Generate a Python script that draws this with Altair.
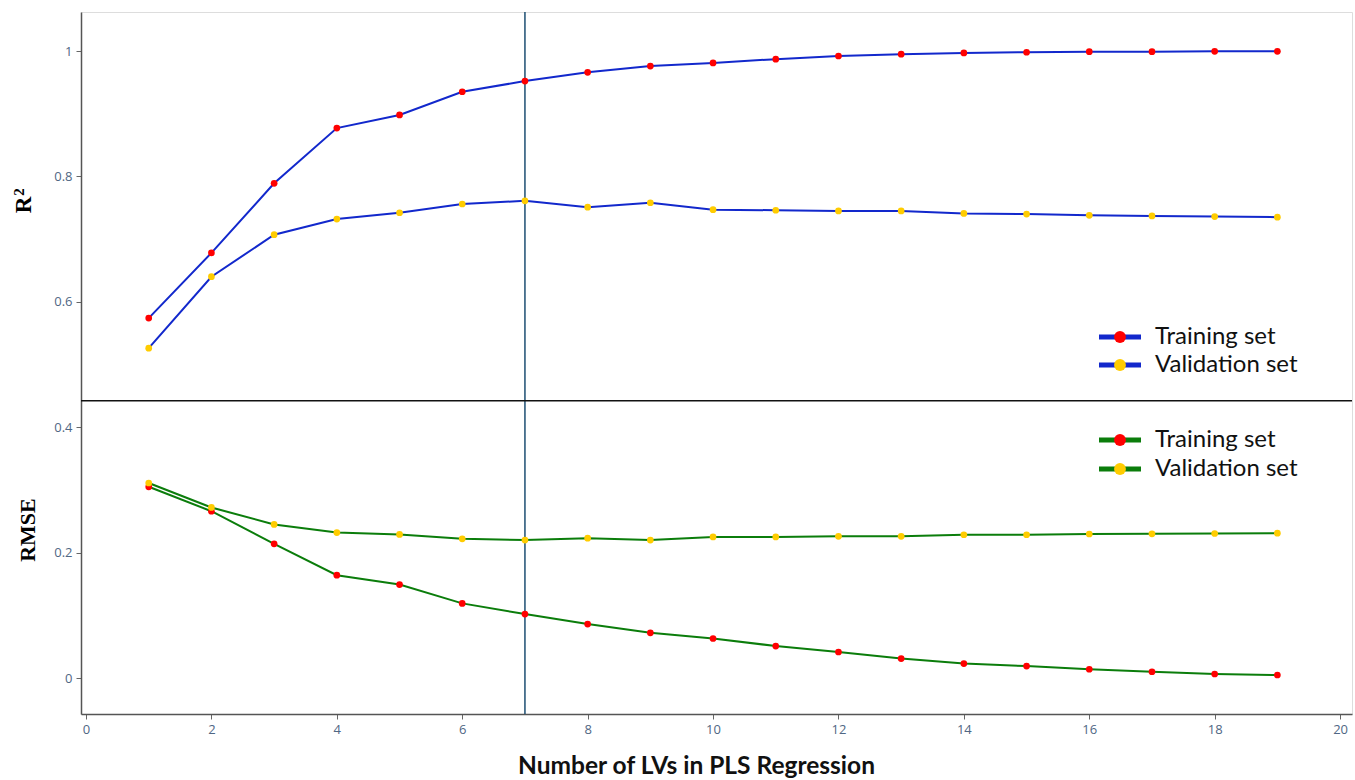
import altair as alt
import pandas as pd

# ---- data ----
lvs = list(range(1, 20))
r2_train = [0.574, 0.678, 0.789, 0.877, 0.898, 0.935, 0.952, 0.966, 0.976, 0.981,
            0.987, 0.992, 0.995, 0.997, 0.998, 0.999, 0.999, 0.9995, 0.9995]
r2_valid = [0.526, 0.640, 0.707, 0.732, 0.742, 0.756, 0.761, 0.751, 0.758, 0.747,
            0.746, 0.745, 0.745, 0.741, 0.740, 0.738, 0.737, 0.736, 0.735]
rmse_train = [0.305, 0.266, 0.214, 0.164, 0.149, 0.119, 0.102, 0.086, 0.072, 0.063,
              0.051, 0.0415, 0.031, 0.023, 0.019, 0.014, 0.010, 0.0064, 0.0048]
rmse_valid = [0.311, 0.272, 0.245, 0.232, 0.229, 0.222, 0.220, 0.223, 0.220, 0.225,
              0.225, 0.226, 0.226, 0.2285, 0.2285, 0.2297, 0.230, 0.2305, 0.231]
set_names = ["Training set", "Validation set"]
metrics = ["R2", "RMSE"]
selected_lv = 7
divider_value = 0.442
x_ticks = list(range(0, 21, 2))
y_ticks = [0, 0.2, 0.4, 0.6, 0.8, 1]

rows = []
for metric, series in (("R2", (r2_train, r2_valid)), ("RMSE", (rmse_train, rmse_valid))):
    for name, vals in zip(set_names, series):
        for lv, v in zip(lvs, vals):
            rows.append({"lv": lv, "value": v, "metric": metric, "set": name,
                         "series": metric + "|" + name})
df = pd.DataFrame(rows)

LINE_COLORS = {"R2": "#1228cc", "RMSE": "#0b7d0b"}
POINT_COLORS = {"Training set": "#ff0000", "Validation set": "#ffcc00"}

W, H = 1271, 702

x_enc = alt.X("lv:Q",
              scale=alt.Scale(domain=[-0.08, 20.19], nice=False, zero=False),
              axis=alt.Axis(values=x_ticks, format="d", title="Number of LVs in PLS Regression",
                            grid=False, labelFontSize=13, labelColor="#506784",
                            labelFont="Open Sans", labelPadding=4,
                            tickColor="#666", tickSize=5, domainColor="#555", domainWidth=1.5,
                            titleFont="Lato", titleFontSize=24.5, titleFontWeight="bold",
                            titleColor="#111", titleX=615, titleY=59,
                            titleBaseline="alphabetic"))
y_enc = alt.Y("value:Q",
              scale=alt.Scale(domain=[-0.0574, 1.0622], nice=False, zero=False),
              axis=alt.Axis(values=y_ticks, format="~g", title=None, grid=False,
                            labelFontSize=13, labelColor="#506784", labelFont="Open Sans",
                            labelPadding=4, tickColor="#666", tickSize=5,
                            domainColor="#555", domainWidth=1.5))

lines = alt.Chart(df).mark_line(strokeWidth=2).encode(
    x=x_enc, y=y_enc,
    color=alt.Color("metric:N", scale=alt.Scale(domain=metrics,
                    range=[LINE_COLORS[m] for m in metrics]), legend=None),
    detail="series:N",
)
points = alt.Chart(df).mark_point(filled=True, size=45, opacity=1).encode(
    x="lv:Q", y="value:Q",
    fill=alt.Fill("set:N", scale=alt.Scale(domain=set_names,
                  range=[POINT_COLORS[s] for s in set_names]), legend=None),
)

vline = alt.Chart(pd.DataFrame({"lv": [selected_lv]})).mark_rule(
    color="#1d4e72", strokeWidth=1.5).encode(x="lv:Q")
hline = alt.Chart(pd.DataFrame({"value": [divider_value]})).mark_rule(
    color="#111", strokeWidth=1.5).encode(y="value:Q")

# y titles (two panels share one axis)
ytitles = []
for label, xpix, ypix, fs in (("R", -57, 193, 23), ("2", -62, 180, 15), ("RMSE", -53, 518, 22)):
    ytitles.append(alt.Chart(pd.DataFrame({"t": [label]})).mark_text(
        angle=270, font="Liberation Serif", fontSize=fs, fontWeight="bold",
        color="#000", align="center", baseline="middle").encode(
        text="t:N", x=alt.value(xpix), y=alt.value(ypix)))

# manual legends
legend_layers = []
entries = [("R2", "Training set", 325), ("R2", "Validation set", 353),
           ("RMSE", "Training set", 428), ("RMSE", "Validation set", 457)]
for metric, name, ypix in entries:
    one = pd.DataFrame({"t": [name]})
    legend_layers.append(alt.Chart(one).mark_rule(
        color=LINE_COLORS[metric], strokeWidth=5).encode(
        x=alt.value(1018), x2=alt.value(1060), y=alt.value(ypix)))
    legend_layers.append(alt.Chart(one).mark_point(
        filled=True, size=140, opacity=1, color=POINT_COLORS[name]).encode(
        x=alt.value(1039), y=alt.value(ypix)))
    legend_layers.append(alt.Chart(one).mark_text(
        font="Lato", fontSize=24, color="#111", align="left", baseline="middle").encode(
        text="t:N", x=alt.value(1074), y=alt.value(ypix)))

chart = alt.layer(vline, hline, lines, points, *ytitles, *legend_layers).properties(
    width=W, height=H,
    padding={"left": 81, "top": 12, "right": 3, "bottom": 66},
    autosize=alt.AutoSizeParams(type="none"),
).configure_view(stroke="#777", strokeWidth=1.2).configure(background="white")

chart.save("out.html", embed_options={"renderer": "svg", "actions": False})
